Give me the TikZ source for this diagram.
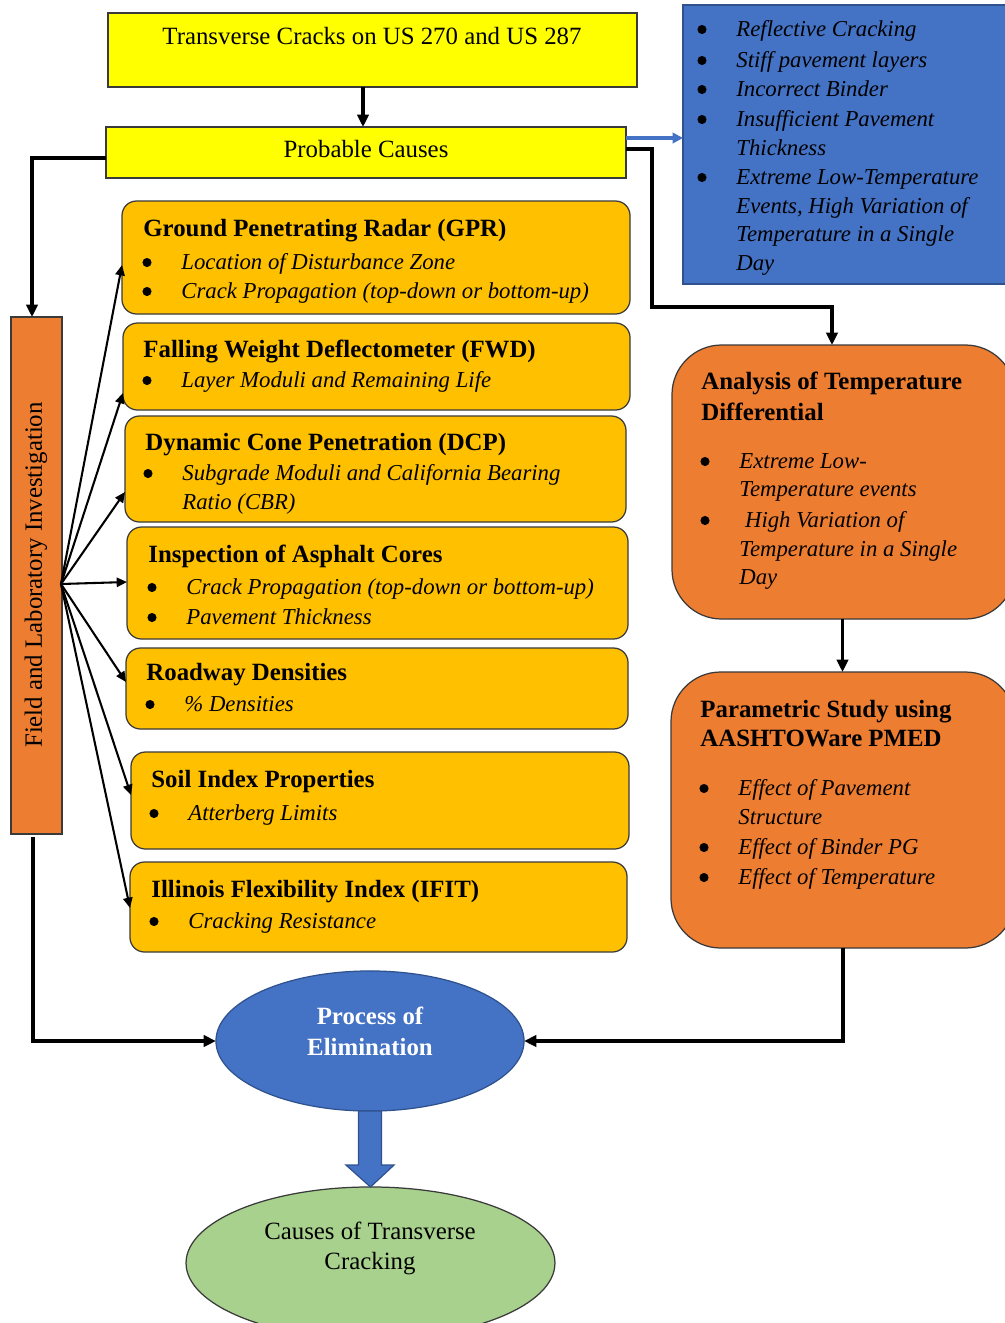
\documentclass[tikz,border=0pt]{standalone}
\usepackage{fontspec}
\setmainfont{Liberation Serif}
\usetikzlibrary{arrows.meta,fit,shapes.geometric,calc}
\definecolor{yel}{HTML}{FFFF00}
\definecolor{gold}{HTML}{FFC000}
\definecolor{org}{HTML}{ED7D31}
\definecolor{blu}{HTML}{4472C4}
\definecolor{bluedge}{HTML}{2F528F}
\definecolor{grn}{HTML}{A9D18E}
\definecolor{edge}{HTML}{3A3A3A}
\newcommand\bul[1]{\fill ($(#1.base west)+(-34,-6.5)$) circle (2.2pt);}
\begin{document}
\begin{tikzpicture}[x=0.4833pt,y=-0.4833pt,
  rbox/.style={draw=edge,line width=0.6pt,inner sep=0pt,outer sep=0pt},
  ybox/.style={rbox,fill=gold,rounded corners=7pt},
  obox/.style={rbox,fill=org,rounded corners=24pt},
  lnr/.style={font=\fontsize{12}{14}\selectfont,inner sep=0pt,anchor=base west},
  lnb/.style={font=\fontsize{12}{14}\selectfont\bfseries,inner sep=0pt,anchor=base west},
  lni/.style={font=\fontsize{11}{13}\selectfont\itshape,inner sep=0pt,anchor=base west},
  arr/.style={line width=1.5pt,-{Triangle[length=6pt,width=5.5pt]}},
  fanarr/.style={line width=1pt,-{Triangle[length=5pt,width=4.5pt]}},
  barr/.style={line width=1.5pt,draw=blu,-{Triangle[length=5pt,width=5pt]}}]
\useasboundingbox (0,0) rectangle (1005,1323);
\clip (0,0) rectangle (1005,1323);
\fill[white] (0,0) rectangle (1005,1323);

% top boxes
\node[rbox,fill=yel,fit={(108,13) (637,87)}] (title) {};
\node[lnr,anchor=base] (titlet) at (372,44) {Transverse Cracks on US 270 and US 287};
\node[rbox,fill=yel,fit={(106,127) (626,178)}] (prob) {};
\node[lnr,anchor=base] (probt) at (366,157) {Probable Causes};

% blue list
\node[rbox,draw=bluedge,fill=blu,fit={(683,5) (1012,284)}] (blue) {};
\node[lni] (bl1) at (736,36) {Reflective Cracking};
\node[lni] (bl2) at (736,67) {Stiff pavement layers};
\node[lni] (bl3) at (736,96) {Incorrect Binder};
\node[lni] (bl4) at (736,126) {Insufficient Pavement};
\node[lni] (bl5) at (736,155) {Thickness};
\node[lni] (bl6) at (736,184) {Extreme Low-Temperature};
\node[lni] (bl7) at (736,213) {Events, High Variation of};
\node[lni] (bl8) at (736,241) {Temperature in a Single};
\node[lni] (bl9) at (736,270) {Day};
\bul{bl1}\bul{bl2}\bul{bl3}\bul{bl4}\bul{bl6}

% field box
\node[rbox,fill=org,fit={(11,317) (62,834)}] (field) {};
\node[font=\fontsize{12}{14}\selectfont,rotate=90,inner sep=0pt] (fieldt) at (36,575) {Field and Laboratory Investigation};

% yellow boxes
\node[ybox,fit={(122,201) (630,314)}] (gpr) {};
\node[lnb] (gpr0) at (143,236) {Ground Penetrating Radar (GPR)};
\node[lni] (gpr1) at (181,269) {Location of Disturbance Zone};
\node[lni] (gpr2) at (181,298) {Crack Propagation (top-down or bottom-up)};
\bul{gpr1}\bul{gpr2}

\node[ybox,fit={(123,323) (630,410)}] (fwd) {};
\node[lnb] (fwd0) at (143,357) {Falling Weight Deflectometer (FWD)};
\node[lni] (fwd1) at (181,387) {Layer Moduli and Remaining Life};
\bul{fwd1}

\node[ybox,fit={(125,416) (626,522)}] (dcp) {};
\node[lnb] (dcp0) at (145,450) {Dynamic Cone Penetration (DCP)};
\node[lni] (dcp1) at (182,480) {Subgrade Moduli and California Bearing};
\node[lni] (dcp2) at (182,509) {Ratio (CBR)};
\bul{dcp1}

\node[ybox,fit={(127,527) (628,639)}] (insp) {};
\node[lnb] (insp0) at (148,562) {Inspection of Asphalt Cores};
\node[lni] (insp1) at (186,594) {Crack Propagation (top-down or bottom-up)};
\node[lni] (insp2) at (186,624) {Pavement Thickness};
\bul{insp1}\bul{insp2}

\node[ybox,fit={(126,648) (628,729)}] (road) {};
\node[lnb] (road0) at (146,680) {Roadway Densities};
\node[lni] (road1) at (184,711) {\% Densities};
\bul{road1}

\node[ybox,fit={(131,752) (629,849)}] (soil) {};
\node[lnb] (soil0) at (151,787) {Soil Index Properties};
\node[lni] (soil1) at (188,820) {Atterberg Limits};
\bul{soil1}

\node[ybox,fit={(130,862) (627,952)}] (ifit) {};
\node[lnb] (ifit0) at (151,897) {Illinois Flexibility Index (IFIT)};
\node[lni] (ifit1) at (188,928) {Cracking Resistance};
\bul{ifit1}

% right orange boxes
\node[obox,fit={(672,345) (1015,619)}] (ana) {};
\node[lnb] (ana0) at (701,389) {Analysis of Temperature};
\node[lnb] (ana1) at (701,420) {Differential};
\node[lni] (ana2) at (739,468) {Extreme Low-};
\node[lni] (ana3) at (739,496) {Temperature events};
\node[lni] (ana4) at (739,527) {\ High Variation of};
\node[lni] (ana5) at (739,556) {Temperature in a Single};
\node[lni] (ana6) at (739,584) {Day};
\bul{ana2}\bul{ana4}

\node[obox,fit={(671,672) (1015,948)}] (param) {};
\node[lnb] (par0) at (700,717) {Parametric Study using};
\node[lnb] (par1) at (700,746) {AASHTOWare PMED};
\node[lni] (par2) at (738,795) {Effect of Pavement};
\node[lni] (par3) at (738,824) {Structure};
\node[lni] (par4) at (738,854) {Effect of Binder PG};
\node[lni] (par5) at (738,884) {Effect of Temperature};
\bul{par2}\bul{par4}\bul{par5}

% ellipses
\node[ellipse,draw=bluedge,line width=0.6pt,fill=blu,minimum width=148.9pt,minimum height=67.7pt,inner sep=0pt,outer sep=0pt] (proc) at (370,1041) {};
\node[lnb,anchor=base,text=white] (proc0) at (370,1024) {Process of};
\node[lnb,anchor=base,text=white] (proc1) at (370,1055) {Elimination};
\node[ellipse,draw=edge,line width=0.6pt,fill=grn,minimum width=178.3pt,minimum height=73.5pt,inner sep=0pt,outer sep=0pt] (causes) at (370.5,1263) {};
\node[lnr,anchor=base] (caus0) at (370,1239) {Causes of Transverse};
\node[lnr,anchor=base] (caus1) at (370,1269) {Cracking};

% block arrow
\filldraw[fill=blu,draw=bluedge,line width=0.6pt] ($(proc.south)+(-11.5,0)$) -- ($(proc.south)+(11.5,0)$) -- ($(proc.south)+(11.5,54)$) -- ($(proc.south)+(24,54)$) -- (causes.north) -- ($(proc.south)+(-24,54)$) -- ($(proc.south)+(-11.5,54)$) -- cycle;

% connectors
\draw[arr] (title.south -| 363,0) -- (prob.north -| 363,0);
\coordinate (pb) at ($(prob.east)+(0,-14.5)$);
\draw[barr] (pb) -- (pb -| blue.west);
\coordinate (pr) at ($(prob.east)+(0,-3.5)$);
\coordinate (j1) at (652,307);
\draw[arr] (pr) -| (j1) -| ($(ana.north)+(-11.5,0)$);
\coordinate (pl) at ($(prob.west)+(0,5.5)$);
\draw[arr] (pl) -| ($(field.north)+(-4.5,0)$);
\draw[arr] ($(field.south)+(-3.5,3)$) |- (proc.west);
\draw[arr] (param.south) |- (proc.east);
\coordinate (as) at ($(ana.south)+(-1,0)$);
\draw[arr] (as) -- (as |- param.north);

\coordinate (fan) at (61,584);
\draw[fanarr] (fan) -- ($(gpr.west)+(0,7.5)$);
\draw[fanarr] (fan) -- ($(fwd.west)+(0,26.5)$);
\draw[fanarr] (fan) -- ($(dcp.west)+(0,23)$);
\draw[fanarr] (fan) -- ($(insp.west)+(0,-1)$);
\draw[fanarr] (fan) -- ($(road.west)+(0,-6.5)$);
\draw[fanarr] (fan) -- ($(soil.west)+(0,-5.5)$);
\draw[fanarr] (fan) -- ($(ifit.west)+(0,1)$);
\end{tikzpicture}
\end{document}
